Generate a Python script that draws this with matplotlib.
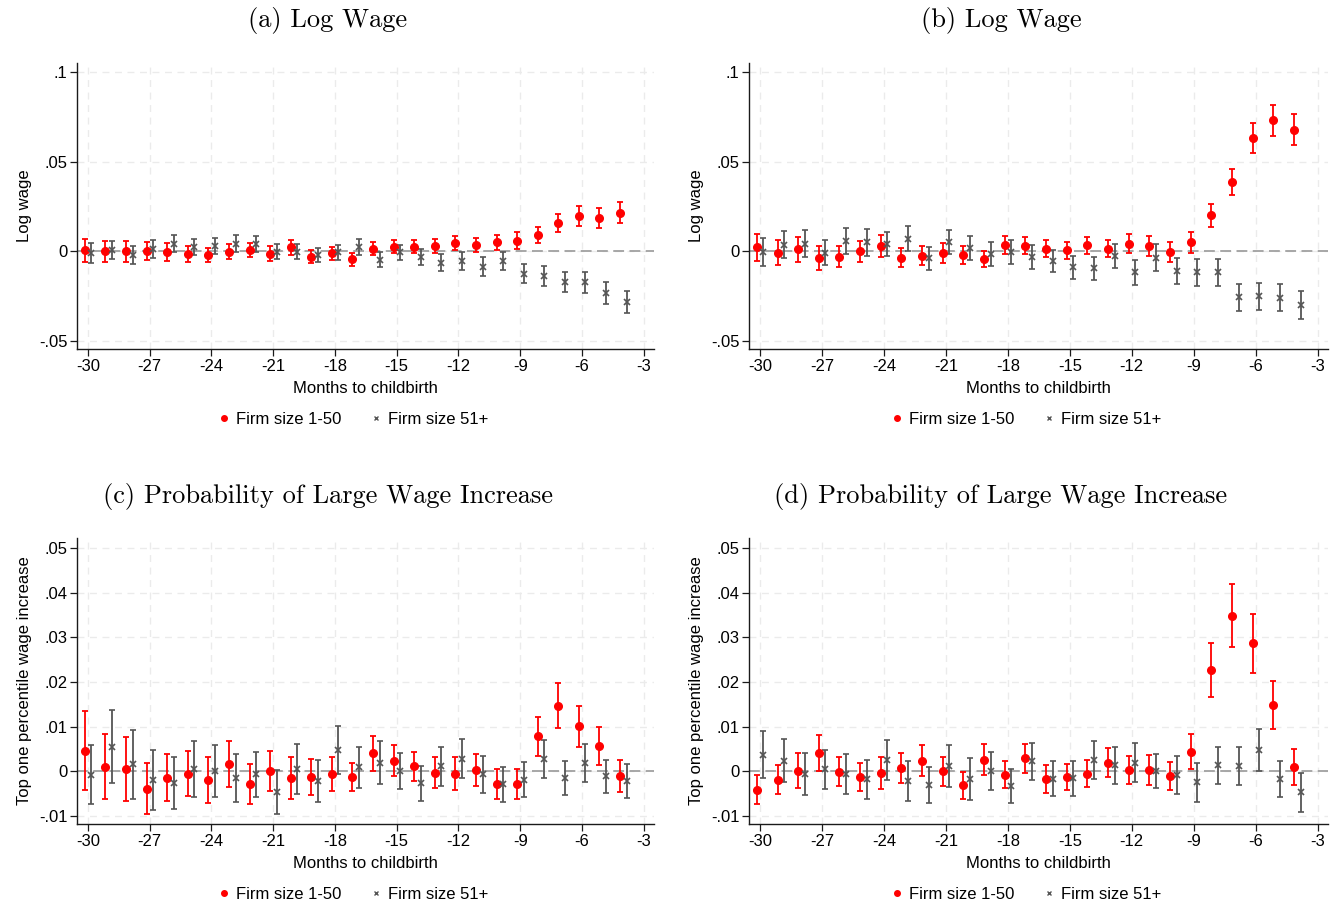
import matplotlib
matplotlib.use('Agg')
import matplotlib.pyplot as plt
from matplotlib.lines import Line2D
import numpy as np

# months -30 .. -4
months = np.arange(-30, -3)

# (a) log wage, sample 1
a_small = [0.0006, 0.0, 0.0, 0.0, -0.0005, -0.0017, -0.002, -0.0002, 0.0006, -0.0013,
           0.0022, -0.003, -0.0011, -0.0045, 0.0015, 0.0026, 0.0026, 0.0028, 0.0047, 0.0035,
           0.0049, 0.006, 0.009, 0.0159, 0.0196, 0.0185, 0.0215]
a_small_ci = [0.0065, 0.006, 0.006, 0.005, 0.005, 0.0045, 0.004, 0.004, 0.0038, 0.004,
              0.004, 0.0035, 0.0035, 0.0035, 0.0038, 0.0037, 0.0037, 0.004, 0.004, 0.004,
              0.004, 0.0045, 0.0045, 0.005, 0.0055, 0.0055, 0.006]
a_large = [-0.001, 0.0006, -0.0022, 0.0013, 0.0043, 0.0024, 0.003, 0.0043, 0.0041, -0.0002,
           -0.0002, -0.0019, -0.0006, 0.0024, -0.0047, -0.0006, -0.0034, -0.0063, -0.0052, -0.0086,
           -0.0052, -0.0125, -0.0136, -0.017, -0.0174, -0.0233, -0.0284]
a_large_ci = [0.0055, 0.005, 0.005, 0.0048, 0.0045, 0.0045, 0.0045, 0.0045, 0.0043, 0.0042,
              0.004, 0.004, 0.004, 0.0042, 0.0042, 0.0043, 0.0044, 0.0046, 0.005, 0.0052,
              0.005, 0.0052, 0.0055, 0.0056, 0.006, 0.006, 0.0063]

# (b) log wage, sample 2
b_small = [0.0022, -0.0009, 0.0011, -0.0037, -0.003, 0.0, 0.003, -0.0035, -0.0024, -0.0009,
           -0.0022, -0.0043, 0.0035, 0.0032, 0.0015, 0.0006, 0.0034, 0.0015, 0.0043, 0.003,
           -0.0002, 0.005, 0.02, 0.0388, 0.063, 0.0731, 0.0677]
b_small_ci = [0.0076, 0.007, 0.007, 0.0065, 0.006, 0.006, 0.006, 0.0055, 0.0054, 0.0054,
              0.005, 0.0047, 0.0048, 0.0046, 0.0048, 0.0047, 0.0048, 0.0047, 0.0053, 0.0056,
              0.0056, 0.006, 0.0065, 0.0073, 0.0083, 0.0086, 0.0086]
b_large = [-0.0002, 0.0037, 0.0043, -0.0007, 0.0056, 0.005, 0.0039, 0.0069, -0.0039, 0.0052,
           0.0019, -0.0015, -0.0004, -0.0032, -0.0054, -0.009, -0.0095, -0.0026, -0.0118, -0.0035,
           -0.0108, -0.0118, -0.0118, -0.0257, -0.025, -0.026, -0.03]
b_large_ci = [0.0078, 0.0077, 0.0075, 0.0072, 0.0073, 0.0075, 0.0068, 0.007, 0.0064, 0.0066,
              0.0065, 0.0065, 0.0065, 0.0065, 0.0063, 0.0064, 0.0063, 0.0069, 0.007, 0.0075,
              0.0072, 0.0073, 0.0075, 0.0075, 0.0075, 0.0075, 0.0077]

# (c) top percentile wage increase, sample 1
c_small = [0.0046, 0.001, 0.0005, -0.0039, -0.0014, -0.0005, -0.0019, 0.0016, -0.0028, 0.0,
           -0.0015, -0.0013, -0.0007, -0.0013, 0.004, 0.0024, 0.0011, -0.0003, -0.0005, 0.0003,
           -0.0028, -0.0028, 0.0078, 0.0147, 0.0101, 0.0056, -0.0011]
c_small_ci = [0.0089, 0.0073, 0.0071, 0.0057, 0.0052, 0.005, 0.0052, 0.0051, 0.0045, 0.0045,
              0.0046, 0.0041, 0.0038, 0.0032, 0.0039, 0.0035, 0.0033, 0.0034, 0.0038, 0.0035,
              0.0033, 0.0034, 0.0044, 0.0051, 0.0046, 0.0043, 0.0036]
c_large = [-0.0008, 0.0055, 0.0016, -0.0019, -0.0026, 0.0005, 0.0001, -0.0015, -0.0007, -0.0046,
           0.0005, -0.0022, 0.0048, 0.0009, 0.0019, 0.0001, -0.0027, 0.0011, 0.0028, -0.0007,
           -0.0029, -0.0019, 0.0028, -0.0015, 0.0019, -0.0011, -0.0022]
c_large_ci = [0.0066, 0.0082, 0.0077, 0.0067, 0.0058, 0.0062, 0.0058, 0.0053, 0.005, 0.0049,
              0.0055, 0.0047, 0.0053, 0.0046, 0.0048, 0.0041, 0.0039, 0.0043, 0.0044, 0.0042,
              0.0039, 0.0039, 0.0043, 0.0039, 0.0042, 0.0037, 0.0038]

# (d) top percentile wage increase, sample 2
d_small = [-0.0041, -0.0019, 0.0001, 0.0041, -0.0001, -0.0013, -0.0004, 0.0007, 0.0024, 0.0,
           -0.0031, 0.0026, -0.0008, 0.0029, -0.0017, -0.0012, -0.0005, 0.0019, 0.0003, 0.0003,
           -0.001, 0.0044, 0.0226, 0.0348, 0.0286, 0.0149, 0.001]
d_small_ci = [0.0032, 0.0032, 0.0039, 0.0041, 0.0033, 0.0032, 0.0036, 0.0034, 0.0034, 0.0033,
              0.003, 0.0034, 0.003, 0.0032, 0.0031, 0.0029, 0.003, 0.0032, 0.0031, 0.0034,
              0.0031, 0.0039, 0.006, 0.007, 0.0066, 0.0054, 0.004]
d_large = [0.0037, 0.0024, -0.0006, 0.0004, -0.0006, -0.0018, 0.0025, -0.0021, -0.003, 0.0011,
           -0.0017, 0.0001, -0.0033, 0.0022, -0.0017, -0.0016, 0.0025, 0.0013, 0.0019, 0.0,
           -0.0008, -0.0025, 0.0013, 0.0012, 0.0047, -0.0017, -0.0047]
d_large_ci = [0.0053, 0.0048, 0.0046, 0.0044, 0.0045, 0.0043, 0.0045, 0.0045, 0.004, 0.0047,
              0.0047, 0.0043, 0.0037, 0.0041, 0.0039, 0.004, 0.0043, 0.0041, 0.0044, 0.0038,
              0.0042, 0.0043, 0.0042, 0.0043, 0.0047, 0.0041, 0.0044]

xticks = [-30, -27, -24, -21, -18, -15, -12, -9, -6, -3]
yticks_wage = [-0.05, 0, 0.05, 0.1]
yticklabels_wage = ['-.05', '0', '.05', '.1']
yticks_prob = [-0.01, 0, 0.01, 0.02, 0.03, 0.04, 0.05]
yticklabels_prob = ['-.01', '0', '.01', '.02', '.03', '.04', '.05']

plt.rcParams['font.family'] = ['Liberation Sans', 'DejaVu Sans']

fig = plt.figure(figsize=(13.38, 9.07), dpi=100)
W, H = 1338, 907


def make_ax(left, top, right, bottom):
    return fig.add_axes([left / W, 1 - bottom / H, (right - left) / W, (bottom - top) / H])


panels = [
    (make_ax(77, 63, 654, 349), a_small, a_small_ci, a_large, a_large_ci, 'wage'),
    (make_ax(749, 63, 1328, 349), b_small, b_small_ci, b_large, b_large_ci, 'wage'),
    (make_ax(77, 538, 654, 824), c_small, c_small_ci, c_large, c_large_ci, 'prob'),
    (make_ax(749, 538, 1328, 824), d_small, d_small_ci, d_large, d_large_ci, 'prob'),
]

red = '#ff0000'
gray = '#555555'

for ax, ys, ys_ci, yl, yl_ci, kind in panels:
    ax.errorbar(months - 0.15, ys, yerr=ys_ci, fmt='o', color=red, ms=5.5,
                elinewidth=1.3, capsize=2.5, capthick=1.3, zorder=3)
    ax.errorbar(months + 0.17, yl, yerr=yl_ci, fmt='x', color=gray, ms=4, mew=1.2,
                elinewidth=1.3, capsize=2.5, capthick=1.3, zorder=3)
    ax.axhline(0, color='#a0a0a0', lw=1.3, ls=(0, (6, 3)), zorder=2)
    ax.set_xlim(-30.53, -2.5)
    ax.set_xticks(xticks)
    ax.set_xticklabels([str(t) for t in xticks])
    if kind == 'wage':
        ax.set_ylim(-0.0545, 0.105)
        ax.set_yticks(yticks_wage)
        ax.set_yticklabels(yticklabels_wage)
        ax.set_ylabel('Log wage', fontsize=12, labelpad=5)
    else:
        ax.set_ylim(-0.0118, 0.0522)
        ax.set_yticks(yticks_prob)
        ax.set_yticklabels(yticklabels_prob)
        ax.set_ylabel('Top one percentile wage increase', fontsize=12, labelpad=5)
    ax.set_xlabel('Months to childbirth', fontsize=12, labelpad=5)
    ax.grid(True, color='#ebebeb', lw=1.0, ls=(0, (5, 4)), zorder=0)
    ax.set_axisbelow(True)
    for s in ['top', 'right']:
        ax.spines[s].set_visible(False)
    for s in ['left', 'bottom']:
        ax.spines[s].set_color('#1a1a1a')
        ax.spines[s].set_linewidth(1.0)
    ax.tick_params(axis='both', labelsize=12, length=5, width=0.9, color='#1a1a1a', pad=2)
    handles = [Line2D([], [], ls='none', marker='o', color=red, ms=4),
               Line2D([], [], ls='none', marker='x', color=gray, ms=3.5, mew=1.0)]
    ax.legend(handles, ['Firm size 1-50', 'Firm size 51+'], loc='center',
              bbox_to_anchor=(0.478, -0.245), ncol=2, frameon=False, fontsize=12,
              handlelength=0.8, handletextpad=0.3, columnspacing=1.7)

title_kw = dict(ha='center', va='center', fontsize=19, family='cmr10')
fig.text(328 / W, 1 - 21 / H, '(a) Log Wage', **title_kw)
fig.text(1001 / W, 1 - 21 / H, '(b) Log Wage', **title_kw)
fig.text(328 / W, 1 - 496 / H, '(c) Probability of Large Wage Increase', **title_kw)
fig.text(1001 / W, 1 - 496 / H, '(d) Probability of Large Wage Increase', **title_kw)

fig.savefig('out.png', dpi=100)
